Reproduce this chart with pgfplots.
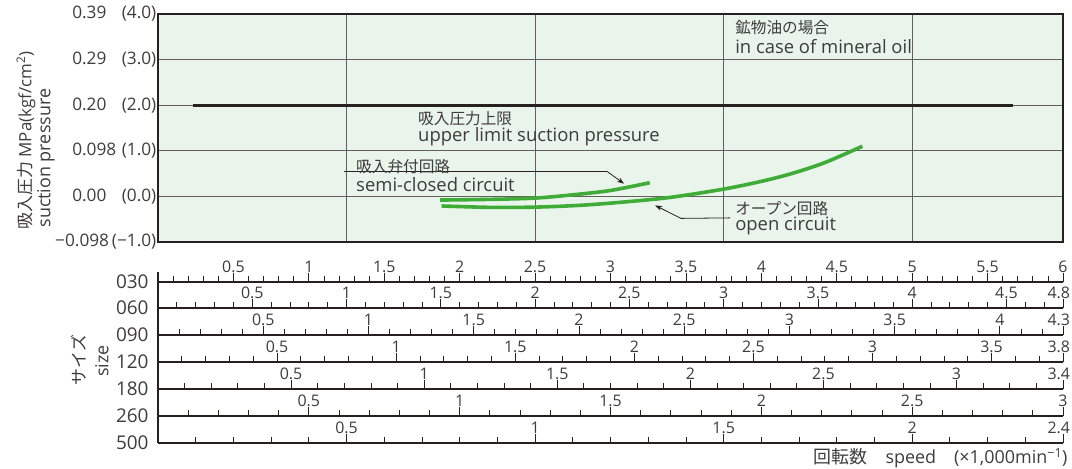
\documentclass[border=0pt]{standalone}
\usepackage{fontspec}
\setmainfont{Open Sans}
\newfontfamily\jp{Noto Sans CJK JP}
\usepackage{pgfplots}
\pgfplotsset{compat=1.18}
\usetikzlibrary{arrows.meta}

\definecolor{bg}{RGB}{233,245,234}
\definecolor{grn}{RGB}{64,172,56}
\definecolor{frame}{RGB}{40,32,30}
\definecolor{gridc}{RGB}{100,95,92}
\definecolor{txt}{RGB}{62,60,60}

\pgfplotsset{
  rowstyle/.style={
    scale only axis, width=905bp, height=8bp, anchor=north west,
    xmin=0, ymin=0, ymax=1,
    axis x line*=top, axis y line=none,
    tick align=outside,
    major tick length=9bp, minor tick length=6bp,
    x axis line style={-, line width=1.1bp, color=frame},
    every tick/.append style={line width=0.8bp, color=frame},
    xticklabel style={font=\fontsize{16}{16}\selectfont, text=txt, inner sep=0.5bp},
    /pgf/number format/assume math mode=true,
  },
}

% #1 row line (px from top), #2 max, #3 major ticks, #4 labels, #5 size name
\newcommand{\scalerow}[5]{%
  \begin{axis}[rowstyle, at={(158bp,-#1bp)}, xmax=#2,
    xtick={#3}, xticklabels={#4}, minor xtick={0.1,0.2,...,#2}]
  \end{axis}
  \node[anchor=east, text=txt, font=\fontsize{19}{19}\selectfont] at (152bp,-#1bp) {#5};
}
% last label of a row, kept inside the right edge
\newcommand{\lastlab}[1]{\makebox[14bp][r]{#1}}
% y tick label: pressure in MPa, then kgf/cm2 in parentheses
\newcommand{\ylab}[2]{\makebox[49bp][l]{#1}\makebox[35bp][r]{(#2)}}

\begin{document}
\begin{tikzpicture}
\path[use as bounding box] (0,0) rectangle (1072bp,-469bp);

\begin{axis}[
  scale only axis, width=905bp, height=228bp,
  at={(158bp,-242bp)}, anchor=south west,
  xmin=0, xmax=6, ymin=-1, ymax=4,
  axis background/.style={fill=bg},
  xtick={1.25,2.5,3.75,5}, xticklabels={},
  ytick={-1,0,1,2,3,4},
  yticklabels={\textminus0.098\,(\textminus1.0), \ylab{0.00}{0.0}, \ylab{0.098}{1.0},
    \ylab{0.20}{2.0}, \ylab{0.29}{3.0}, \ylab{0.39}{4.0}},
  major tick length=0pt,
  grid=major, major grid style={line width=0.9bp, color=gridc},
  axis line style={line width=1.8bp, color=frame},
  yticklabel style={font=\fontsize{17.3}{18}\selectfont, text=txt, inner sep=1.5bp},
  /pgf/number format/assume math mode=true,
  clip=false,
]
% upper limit suction pressure
\addplot[line width=2.6bp, color=frame] coordinates {(0.232,2) (5.67,2)};
% semi-closed circuit
\addplot[line width=3.6bp, color=grn, smooth] coordinates {
  (1.87,-0.08) (2.2,-0.065) (2.5,-0.037) (2.75,0.035) (3.0,0.13) (3.26,0.30)
};
% open circuit
\addplot[line width=3.6bp, color=grn, smooth] coordinates {
  (1.88,-0.21) (2.2,-0.24) (2.5,-0.235) (2.8,-0.195) (3.1,-0.12) (3.4,-0.02)
  (3.75,0.16) (4.0,0.33) (4.2,0.50) (4.42,0.74) (4.67,1.10)
};

\draw[color=frame, line width=0.8bp, -{Stealth[length=7bp,width=5bp]}]
  (axis cs:1.232,0.548) -- (axis cs:2.977,0.548) -- (axis cs:3.09,0.278);
\draw[color=frame, line width=0.8bp, -{Stealth[length=7bp,width=5bp]}]
  (axis cs:3.793,-0.471) -- (axis cs:3.468,-0.482) -- (axis cs:3.296,-0.197);

\begin{scope}[every node/.style={anchor=west, text=txt, inner sep=0pt}]
\node[font=\jp\fontsize{15.7}{16}\selectfont] at (axis cs:3.826,3.706) {鉱物油の場合};
\node[font=\fontsize{18.5}{19}\selectfont] at (axis cs:3.826,3.289) {in case of mineral oil};
\node[font=\jp\fontsize{15.7}{16}\selectfont] at (axis cs:1.724,1.711) {吸入圧力上限};
\node[font=\fontsize{18.5}{19}\selectfont] at (axis cs:1.724,1.316) {upper limit suction pressure};
\node[font=\jp\fontsize{15.7}{16}\selectfont] at (axis cs:1.313,0.658) {吸入弁付回路};
\node[font=\fontsize{18.5}{19}\selectfont] at (axis cs:1.313,0.263) {semi-closed circuit};
\node[font=\jp\fontsize{15.7}{16}\selectfont] at (axis cs:3.826,-0.263) {オープン回路};
\node[font=\fontsize{18.5}{19}\selectfont] at (axis cs:3.826,-0.658) {open circuit};
\end{scope}
\end{axis}

\node[rotate=90, anchor=west, text=txt, font=\fontsize{17}{18}\selectfont] at (26bp,-233bp)
  {{\jp 吸入圧力} MPa(kgf/cm\textsuperscript{2})};
\node[rotate=90, anchor=west, text=txt, font=\fontsize{18}{18}\selectfont] at (46bp,-231bp)
  {suction pressure};

\scalerow{282}{6}{0.5,1,1.5,2,2.5,3,3.5,4,4.5,5,5.5,6}{0.5,1,1.5,2,2.5,3,3.5,4,4.5,5,5.5,6}{030}
\scalerow{308}{4.8}{0.5,1,1.5,2,2.5,3,3.5,4,4.5,4.8}{0.5,1,1.5,2,2.5,3,3.5,4,4.5,\lastlab{4.8}}{060}
\scalerow{335}{4.3}{0.5,1,1.5,2,2.5,3,3.5,4,4.3}{0.5,1,1.5,2,2.5,3,3.5,4,\lastlab{4.3}}{090}
\scalerow{362}{3.8}{0.5,1,1.5,2,2.5,3,3.5,3.8}{0.5,1,1.5,2,2.5,3,3.5,\lastlab{3.8}}{120}
\scalerow{389}{3.4}{0.5,1,1.5,2,2.5,3,3.4}{0.5,1,1.5,2,2.5,3,\lastlab{3.4}}{180}
\scalerow{416}{3}{0.5,1,1.5,2,2.5,3}{0.5,1,1.5,2,2.5,3}{260}
\scalerow{443}{2.4}{0.5,1,1.5,2,2.4}{0.5,1,1.5,2,\lastlab{2.4}}{500}

\draw[color=frame, line width=1.1bp] (158bp,-272bp) -- (158bp,-443bp);

\node[rotate=90, text=txt, font=\jp\fontsize{17}{18}\selectfont] at (79bp,-360bp) {サイズ};
\node[rotate=90, text=txt, font=\fontsize{18}{18}\selectfont] at (102bp,-361bp) {size};

\node[anchor=east, text=txt, font=\fontsize{18}{18}\selectfont] at (1071bp,-458bp)
  {{\jp 回転数}\quad speed\quad(×1,000min\textsuperscript{\textminus1})};
\end{tikzpicture}
\end{document}
